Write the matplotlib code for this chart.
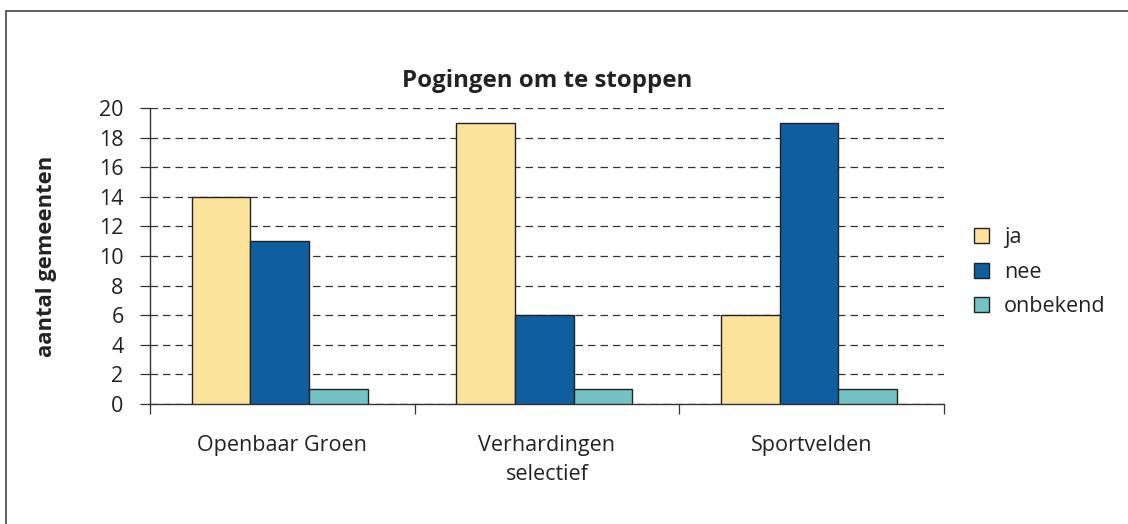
import matplotlib
matplotlib.use("Agg")
import matplotlib.pyplot as plt
import numpy as np
from matplotlib.patches import Rectangle

categories = ["Openbaar Groen", "Verhardingen\nselectief", "Sportvelden"]
series_names = ["ja", "nee", "onbekend"]
ja = [14, 19, 6]
nee = [11, 6, 19]
onbekend = [1, 1, 1]
colors = ["#FBE39B", "#0F5FA0", "#74C3C4"]
yticks = [0, 2, 4, 6, 8, 10, 12, 14, 16, 18, 20]

plt.rcParams['font.family'] = ['Open Sans', 'DejaVu Sans']

fig = plt.figure(figsize=(11.28, 5.24), dpi=100)
# outer frame
fig.patches.append(Rectangle((6/1128, -0.01), 1.2, (524-11)/524 + 0.01, transform=fig.transFigure,
                             fill=False, edgecolor="#444444", linewidth=1.2))

ax = fig.add_axes([150/1128, 1-404/524, (944-150)/1128, (404-108)/524])
x = np.arange(len(categories))
w = 0.222
for i, (vals, c, name) in enumerate(zip([ja, nee, onbekend], colors, series_names)):
    ax.bar(x + (i - 1) * w - 0.01, vals, width=w, color=c, edgecolor="#222222", linewidth=1.0, label=name, zorder=3)

ax.set_xlim(-0.5, 2.5)
ax.set_ylim(0, 20)
ax.set_yticks(yticks)
ax.set_yticklabels([str(v) for v in yticks], fontsize=15.5, color="#222222")
ax.yaxis.grid(True, linestyle=(0, (6, 4)), color="#333333", linewidth=0.9, zorder=0)
ax.tick_params(axis='y', length=7, width=0.9, color="#333333", pad=12)
ax.set_xticks(x)
ax.set_xticklabels(categories, fontsize=15.5, color="#222222", linespacing=1.5)
ax.tick_params(axis='x', length=0, pad=22)
ax.set_xticks([-0.5, 0.5, 1.5, 2.5], minor=True)
ax.tick_params(axis='x', which='minor', length=7, width=0.9, color="#333333")
for s in ["top", "right"]:
    ax.spines[s].set_visible(False)
for s in ["left", "bottom"]:
    ax.spines[s].set_color("#333333")
    ax.spines[s].set_linewidth(1.0)

ax.set_title("Pogingen om te stoppen", fontsize=17.3, fontweight="bold", color="#222222", pad=15)
ax.set_ylabel("aantal gemeenten", fontsize=15.8, fontweight="bold", color="#222222", labelpad=30)

leg = ax.legend(loc="center left", bbox_to_anchor=(1.013, 0.445), frameon=False, fontsize=15.5,
                handlelength=0.7, handleheight=0.7, labelspacing=0.62, handletextpad=0.7)
for t in leg.get_texts():
    t.set_color("#222222")

fig.savefig("out.png", dpi=100)
